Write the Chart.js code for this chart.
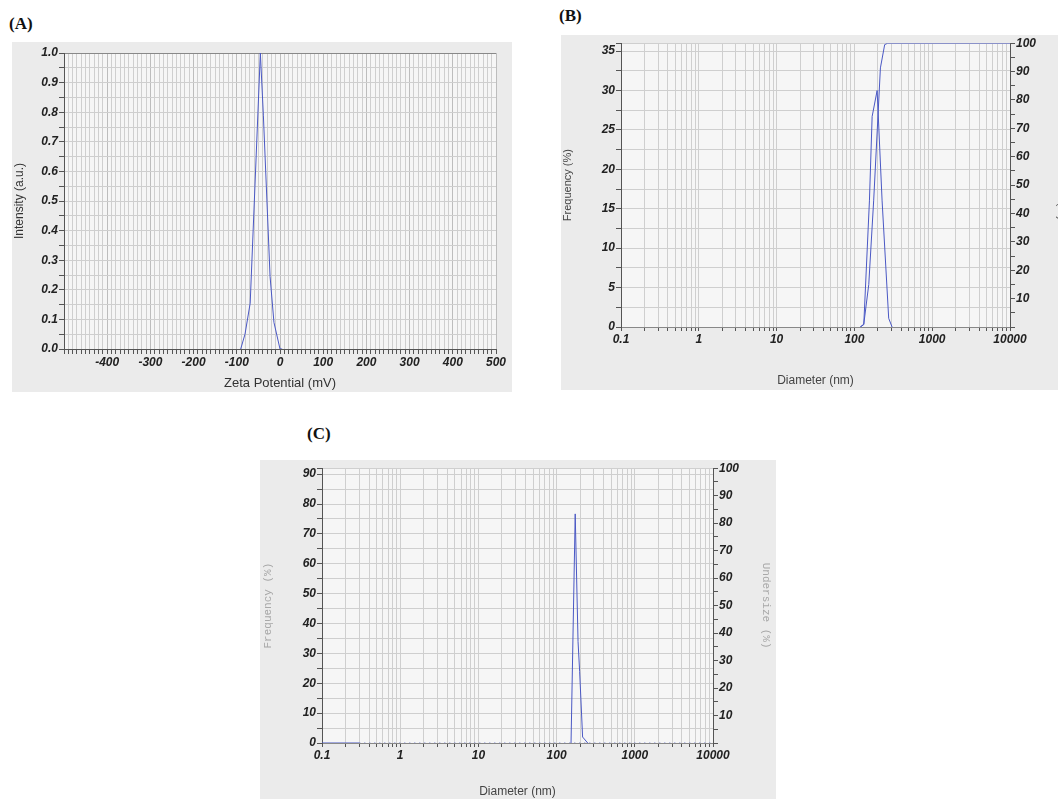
<!DOCTYPE html>
<html>
<head>
<meta charset="utf-8">
<script src="https://cdn.jsdelivr.net/npm/chart.js@4.4.0/dist/chart.umd.min.js"></script>
<style>
html,body{margin:0;padding:0;background:#fff;width:1058px;height:799px;overflow:hidden;position:relative;}
canvas{position:absolute;background:#ebebeb;}
.lbl{position:absolute;font:bold 17px "Liberation Serif","Times New Roman",serif;color:#111;}
</style>
</head>
<body>
<div class="lbl" style="left:9px;top:14px">(A)</div>
<div class="lbl" style="left:559px;top:6px">(B)</div>
<div class="lbl" style="left:307px;top:424px">(C)</div>
<canvas id="chA" width="500" height="350" style="left:12px;top:42px"></canvas>
<canvas id="chB" width="509" height="355" style="left:561px;top:35px"></canvas>
<canvas id="chC" width="516" height="339" style="left:260px;top:460px"></canvas>
<script>
// ----- Datos (A) potencial zeta -----
const zetaMv  = [-91, -81, -69, -45.5, -38.5, -23, -14, 0, 5];
const zetaInt = [0, 0.05, 0.155, 1.0, 0.79, 0.245, 0.09, 0, 0];

// ----- Datos (B) distribución de tamaño -----
const bDiam   = [119, 132, 156, 169, 196, 227, 276, 305];
const bFreq   = [0, 0.3, 16, 26.7, 30, 16, 1.1, 0];
const bUDiam  = [119, 132, 153, 177, 216, 245, 268, 10000];
const bUnder  = [0, 1, 15, 44.7, 91.3, 99.5, 100, 100];

// ----- Datos (C) distribución de tamaño -----
const cDiam   = [153, 173, 188, 197, 215, 250];
const cFreq   = [0, 76.7, 34, 24, 2, 0];
const cBaseDiam = [0.1, 0.3];
const cBase     = [0, 0];
const cDotDiam  = [0.3, 10000];
const cDot      = [0, 0];

// ----- Ejes: décadas con etiqueta, múltiplos menores, topes -----
const decades = [0.1, 1, 10, 100, 1000, 10000];
const minorMult = [1, 2, 3, 4, 5, 6, 7, 8, 9];
const bFreqMax = 36;   // tope eje izq. (B)
const cFreqMax = 92;   // tope eje izq. (C)

const lineColor = '#4a58c4';
const tickFont = { family: '"Liberation Sans", Arial, sans-serif', size: 12, weight: 'bold', style: 'italic' };
const gridCol = '#cfcfcf';
const axisCol = '#555';

const logTicks = [];
decades.forEach(d => {
  if (d === 10000) { logTicks.push(d); return; }
  minorMult.forEach(m => logTicks.push(Number((m * d).toPrecision(3))));
});

// marcas lineales 0..max cada 'step', más el tope
function stepTicks(max, step) {
  const out = [];
  for (let v = 0; v <= max + 1e-9; v += step) out.push(Number(v.toFixed(2)));
  if (out[out.length - 1] !== max) out.push(max);
  return out;
}

const pts = (xs, ys) => xs.map((x, i) => ({ x, y: ys[i] }));

const plotBg = {
  id: 'plotBg',
  beforeDraw(chart) {
    const { ctx, chartArea: a } = chart;
    ctx.save();
    ctx.fillStyle = '#f6f6f6';
    ctx.fillRect(a.left, a.top, a.width, a.height);
    ctx.restore();
  }
};

function ds(data, extra) {
  return Object.assign({ data, borderColor: lineColor, borderWidth: 1, pointRadius: 0, tension: 0, fill: false }, extra || {});
}

function fixW(w) { return s => { s.width = w; }; }
function fixH(h) { return s => { s.height = h; }; }

function logX(height, titlePad) {
  return {
    type: 'logarithmic', min: 0.1, max: 10000,
    afterBuildTicks: s => { s.ticks = logTicks.map(v => ({ value: v })); },
    afterFit: fixH(height),
    grid: { color: gridCol, tickColor: axisCol, tickLength: 4 },
    border: { color: '#888' },
    ticks: { autoSkip: false, maxRotation: 0, minRotation: 0, padding: 1, color: '#222', font: tickFont,
      callback: v => decades.includes(v) ? String(v) : '' },
    title: { display: true, text: 'Diameter (nm)', color: '#444', padding: titlePad,
      font: { family: '"Liberation Sans", Arial, sans-serif', size: 12 } }
  };
}

function leftY(max, step, labelEvery, width, title) {
  const list = stepTicks(max, step);
  return {
    min: 0, max,
    afterBuildTicks: s => { s.ticks = list.map(v => ({ value: v })); },
    afterFit: fixW(width),
    grid: { color: gridCol, tickColor: axisCol, tickLength: 5 },
    border: { color: axisCol },
    ticks: { autoSkip: false, padding: 1, color: '#222', font: tickFont,
      callback: v => (v % labelEvery === 0) ? String(v) : '' },
    title
  };
}

function rightY(width, titleFont, titleColor, titlePad) {
  const list = stepTicks(100, 5);
  return {
    position: 'right', min: 0, max: 100,
    afterBuildTicks: s => { s.ticks = list.map(v => ({ value: v })); },
    afterFit: fixW(width),
    grid: { drawOnChartArea: false, tickColor: axisCol, tickLength: 5 },
    border: { color: axisCol },
    ticks: { autoSkip: false, padding: 1, color: '#222', font: tickFont,
      callback: v => (v % 10 === 0 && v > 0) ? String(v) : '' },
    title: { display: true, text: 'Undersize (%)', color: titleColor, padding: titlePad, font: titleFont }
  };
}

// ----- Gráfico (A) -----
new Chart(document.getElementById('chA'), {
  type: 'line',
  data: { datasets: [ds(pts(zetaMv, zetaInt))] },
  options: {
    responsive: false, animation: false,
    layout: { padding: { top: 11, right: 16, left: 0, bottom: 0 } },
    plugins: { legend: { display: false }, tooltip: { enabled: false } },
    scales: {
      x: {
        type: 'linear', min: -500, max: 500,
        afterFit: fixH(43),
        grid: { color: c => (c.tick && c.tick.value % 100 === 0) ? '#bdbdbd' : gridCol, tickColor: axisCol, tickLength: 5 },
        border: { color: axisCol },
        ticks: { stepSize: 10, autoSkip: false, maxRotation: 0, minRotation: 0, padding: 1, color: '#222', font: tickFont,
          callback: v => (v % 100 === 0 && v !== -500) ? String(v) : '' },
        title: { display: true, text: 'Zeta Potential (mV)', color: '#333', padding: { top: 0, bottom: 1 },
          font: { family: '"Liberation Sans", Arial, sans-serif', size: 13 } }
      },
      y: {
        min: 0, max: 1,
        afterFit: fixW(52),
        grid: { color: c => (c.tick && c.tick.value === 1) ? '#888' : gridCol, tickColor: axisCol, tickLength: 5 },
        border: { color: axisCol },
        ticks: { stepSize: 0.05, autoSkip: false, padding: 1, color: '#222', font: tickFont,
          callback: v => Math.round(v * 100) % 10 === 0 ? v.toFixed(1) : '' },
        title: { display: true, text: 'Intensity (a.u.)', color: '#333', padding: { top: 0, bottom: 0 },
          font: { family: '"Liberation Sans", Arial, sans-serif', size: 12 } }
      }
    }
  },
  plugins: [plotBg]
});

// ----- Gráfico (B) -----
new Chart(document.getElementById('chB'), {
  type: 'line',
  data: { datasets: [
    ds(pts(bDiam, bFreq), { yAxisID: 'y' }),
    ds(pts(bUDiam, bUnder), { yAxisID: 'y2' })
  ] },
  options: {
    responsive: false, animation: false,
    layout: { padding: { top: 7, right: 0, left: 0, bottom: 0 } },
    plugins: { legend: { display: false }, tooltip: { enabled: false } },
    scales: {
      x: logX(63, { top: 0, bottom: 2 }),
      y: leftY(bFreqMax, 2.5, 5, 60, { display: true, text: 'Frequency (%)', color: '#444', padding: { top: 0, bottom: 0 },
          font: { family: '"Liberation Sans", Arial, sans-serif', size: 11 } }),
      // el título derecho queda casi fuera de la ventana, como en la figura
      y2: rightY(60, { family: '"Liberation Sans", Arial, sans-serif', size: 11 }, '#444', { top: 2, bottom: 0 })
    }
  },
  plugins: [plotBg]
});

// ----- Gráfico (C) -----
new Chart(document.getElementById('chC'), {
  type: 'line',
  data: { datasets: [
    ds(pts(cBaseDiam, cBase), { yAxisID: 'y' }),
    ds(pts(cDotDiam, cDot), { yAxisID: 'y2', borderDash: [1, 4] }),
    ds(pts(cDiam, cFreq), { yAxisID: 'y' })
  ] },
  options: {
    responsive: false, animation: false,
    layout: { padding: { top: 7, right: 0, left: 0, bottom: 0 } },
    plugins: { legend: { display: false }, tooltip: { enabled: false } },
    scales: {
      x: logX(56, { top: 0, bottom: 0 }),
      y: leftY(cFreqMax, 5, 10, 62, { display: true, text: 'Frequency (%)', color: '#a8a8a8', padding: { top: 1, bottom: 0 },
          font: { family: '"Liberation Mono", "Courier New", monospace', size: 11 } }),
      y2: rightY(63, { family: '"Liberation Mono", "Courier New", monospace', size: 11 }, '#a8a8a8', { top: 3, bottom: 0 })
    }
  },
  plugins: [plotBg]
});
</script>
</body>
</html>
